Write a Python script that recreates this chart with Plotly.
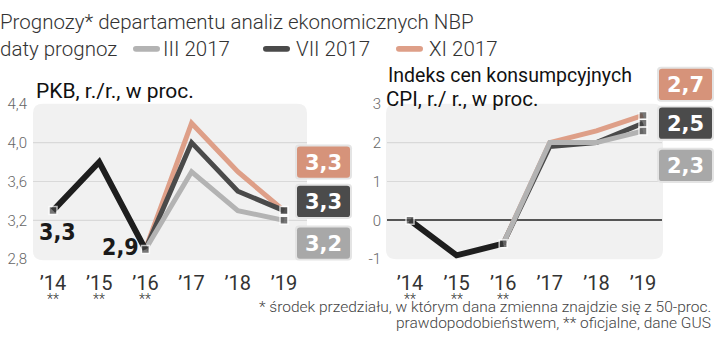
import plotly.graph_objects as go

W, H = 720, 344

# ---------------- data ----------------
years_actual = [2014, 2015, 2016]
years_fc = [2016, 2017, 2018, 2019]
tick_years = [2014, 2015, 2016, 2017, 2018, 2019]
tick_labels = ["’14", "’15", "’16", "’17", "’18", "’19"]
official_years = [2014, 2015, 2016]

gdp_actual = [3.3, 3.8, 2.9]
gdp_iii = [2.9, 3.7, 3.3, 3.2]
gdp_vii = [2.9, 4.0, 3.5, 3.3]
gdp_xi = [2.9, 4.2, 3.7, 3.3]

cpi_actual = [0.0, -0.9, -0.6]
cpi_iii = [-0.6, 2.0, 2.0, 2.3]
cpi_vii = [-0.6, 1.9, 2.0, 2.5]
cpi_xi = [-0.6, 2.0, 2.3, 2.7]

series_names = ["III 2017", "VII 2017", "XI 2017"]
gdp_y_ticks = [2.8, 3.2, 3.6, 4.0, 4.4]
gdp_y_text = ["2,8", "3,2", "3,6", "4,0", "4,4"]
cpi_y_ticks = [-1, 0, 1, 2, 3]
cpi_y_text = ["-1", "0", "1", "2", "3"]

# ---------------- styles ----------------
C_ACT = "#1e1e1e"
C_III = "#b3b3b3"
C_VII = "#4a4a4a"
C_XI = "#de9f88"
BOX_III = "#a8a8a8"
BOX_VII = "#4b4b4b"
BOX_XI = "#d6937a"
BG = "#f1f1f1"
GRID = "#d9d9d9"
TXT = "#333333"

LIGHT = dict(family="Roboto, 'Open Sans', sans-serif", weight=300)
NARROW_BOLD = "'Liberation Sans Narrow', 'DejaVu Sans Condensed', 'Arial Narrow', sans-serif"


def px_x(x):
    return x / W


def px_y(y):
    return 1 - y / H


def rounded_rect(x0, y0, x1, y1, r):
    # coordinates in pixels -> path in paper coords
    def P(x, y):
        return f"{px_x(x):.5f},{px_y(y):.5f}"
    return (f"M {P(x0 + r, y0)} L {P(x1 - r, y0)} Q {P(x1, y0)} {P(x1, y0 + r)} "
            f"L {P(x1, y1 - r)} Q {P(x1, y1)} {P(x1 - r, y1)} "
            f"L {P(x0 + r, y1)} Q {P(x0, y1)} {P(x0, y1 - r)} "
            f"L {P(x0, y0 + r)} Q {P(x0, y0)} {P(x0 + r, y0)} Z")


fig = go.Figure()

MARK = dict(symbol="square", color="#444444", line=dict(color="white", width=1.5))


def add_panel(xa, ya, actual, iii, vii, xi):
    for vals, col in [(xi, C_XI), (vii, C_VII), (iii, C_III)]:
        fig.add_trace(go.Scatter(
            x=years_fc, y=vals, mode="lines+markers", xaxis=xa, yaxis=ya,
            line=dict(color=col, width=5), showlegend=False, hoverinfo="skip",
            marker=dict(size=[0, 0, 0, 8], **MARK)))
    fig.add_trace(go.Scatter(
        x=years_actual, y=actual, mode="lines+markers", xaxis=xa, yaxis=ya,
        line=dict(color=C_ACT, width=6), showlegend=False, hoverinfo="skip",
        marker=dict(size=[8, 0, 8], **MARK)))


add_panel("x", "y", gdp_actual, gdp_iii, gdp_vii, gdp_xi)
add_panel("x2", "y2", cpi_actual, cpi_iii, cpi_vii, cpi_xi)

ydom = [px_y(264), px_y(100)]
xaxis_common = dict(tickmode="array", tickvals=tick_years, ticktext=tick_labels,
                    showgrid=False, zeroline=False, showline=False, ticks="",
                    tickfont=dict(size=20, color=TXT, family="Roboto, sans-serif"),
                    ticklabelstandoff=10)
fig.update_layout(
    width=W, height=H, margin=dict(l=0, r=0, t=0, b=0),
    paper_bgcolor="white", plot_bgcolor="rgba(0,0,0,0)",
    xaxis=dict(domain=[px_x(33), px_x(307)], range=[2013.567, 2019.498], **xaxis_common),
    yaxis=dict(domain=ydom, range=[2.8, 4.4], tickmode="array", tickvals=gdp_y_ticks,
               ticktext=gdp_y_text, showgrid=False, zeroline=False, ticks="",
               ticklabelstandoff=5,
               tickfont=dict(size=15, color="#666666", **LIGHT)),
    xaxis2=dict(domain=[px_x(387), px_x(662)], range=[2013.506, 2019.408],
                anchor="y2", **xaxis_common),
    yaxis2=dict(domain=ydom, range=[-1, 3], anchor="x2", tickmode="array",
                tickvals=cpi_y_ticks, ticktext=cpi_y_text, showgrid=False,
                zeroline=True, zerolinecolor="#555555", zerolinewidth=1.5, ticks="",
                ticklabelstandoff=5,
                tickfont=dict(size=15, color="#666666", **LIGHT)),
)

shapes = []
# panel backgrounds
shapes.append(dict(type="path", path=rounded_rect(33, 100, 307, 265, 10), xref="paper",
                   yref="paper", fillcolor=BG, line=dict(width=0), layer="below"))
shapes.append(dict(type="path", path=rounded_rect(386, 100, 663, 264, 10), xref="paper",
                   yref="paper", fillcolor=BG, line=dict(width=0), layer="below"))
# grid lines
for v in [3.2, 3.6, 4.0]:
    shapes.append(dict(type="line", xref="x domain", yref="y", x0=0, x1=1, y0=v, y1=v,
                       line=dict(color=GRID, width=1.2), layer="below"))
for v in [1, 2]:
    shapes.append(dict(type="line", xref="x2 domain", yref="y2", x0=0, x1=1, y0=v, y1=v,
                       line=dict(color=GRID, width=1.2), layer="below"))

annotations = []


def ann(text, x, y, size, color=TXT, xanchor="left", font=None, **kw):
    f = dict(size=size, color=color)
    f.update(font or LIGHT)
    annotations.append(dict(text=text, x=px_x(x), y=px_y(y), xref="paper", yref="paper",
                            xanchor=xanchor, yanchor="middle", showarrow=False,
                            font=f, **kw))


# title & legend
ann("Prognozy* departamentu analiz ekonomicznych NBP", -2, 14, 20.5)
ann("daty prognoz", -2, 42, 20.5)
legend_items = [(133, 163, C_III, series_names[0]),
                (263, 296, C_VII, series_names[1]),
                (396, 429, C_XI, series_names[2])]
for sx, tx, col, name in legend_items:
    shapes.append(dict(type="path", path=rounded_rect(sx, 39, sx + 27, 45, 3), xref="paper",
                       yref="paper", fillcolor=col, line=dict(width=0)))
    ann(name, tx - 2, 42, 20.5)

# panel titles
REG = dict(family="Roboto, sans-serif", weight=400)
ann("PKB, r./r., w proc.", 34, 87, 21, color="#111111", font=REG)
ann("Indeks cen konsumpcyjnych", 386, 70, 19.5, color="#111111", font=REG)
ann("CPI, r./ r., w proc.", 384, 95, 20.5, color="#111111", font=REG)

# official-data asterisks
for xa, yr in [("x", y) for y in official_years] + [("x2", y) for y in official_years]:
    annotations.append(dict(text="**", x=yr, y=px_y(305.5), xref=xa, yref="paper",
                            showarrow=False, xanchor="center", yanchor="middle",
                            font=dict(size=14, color=TXT, **LIGHT)))

# black data labels
BL = dict(size=23, color="#1a1a1a", family=NARROW_BOLD, weight=700)
annotations.append(dict(text="3,3", x=years_actual[0], y=gdp_actual[0], xref="x", yref="y",
                        showarrow=False, xshift=4, yshift=-21, font=BL))
annotations.append(dict(text="2,9", x=years_actual[2], y=gdp_actual[2], xref="x", yref="y",
                        showarrow=False, xshift=-25, yshift=2, font=BL))

# value boxes
BOXF = dict(size=21, color="white", family="'DejaVu Sans', sans-serif", weight=700)


def value_box(cx, cy, col, text):
    shapes.append(dict(type="path", path=rounded_rect(cx - 28.5, cy - 18.5, cx + 28.5, cy + 18.5, 4),
                       xref="paper", yref="paper", fillcolor="#e4e4e4", line=dict(width=0)))
    shapes.append(dict(type="path", path=rounded_rect(cx - 26.5, cy - 16.5, cx + 26.5, cy + 16.5, 3),
                       xref="paper", yref="paper", fillcolor=col, line=dict(width=0)))
    annotations.append(dict(text=text, x=px_x(cx), y=px_y(cy + 1), xref="paper", yref="paper",
                            showarrow=False, xanchor="center", yanchor="middle", font=BOXF))


def fmt(v):
    return f"{v:.1f}".replace(".", ",")


value_box(323.5, 161.5, BOX_XI, fmt(gdp_xi[-1]))
value_box(323.5, 203, BOX_VII, fmt(gdp_vii[-1]))
value_box(323.5, 247, BOX_III, fmt(gdp_iii[-1]))
value_box(685.5, 79.5, BOX_XI, fmt(cpi_xi[-1]))
value_box(685.5, 120.5, BOX_VII, fmt(cpi_vii[-1]))
value_box(685.5, 165, BOX_III, fmt(cpi_iii[-1]))

# footnote
ann("* środek przedziału, w którym dana zmienna znajdzie się z 50-proc.", 713, 314, 15.5,
    color="#444444", xanchor="right")
ann("prawdopodobieństwem, ** oficjalne, dane GUS", 713, 331, 15.5,
    color="#444444", xanchor="right")

fig.update_layout(shapes=shapes, annotations=annotations)
fig.write_html("out.html")
